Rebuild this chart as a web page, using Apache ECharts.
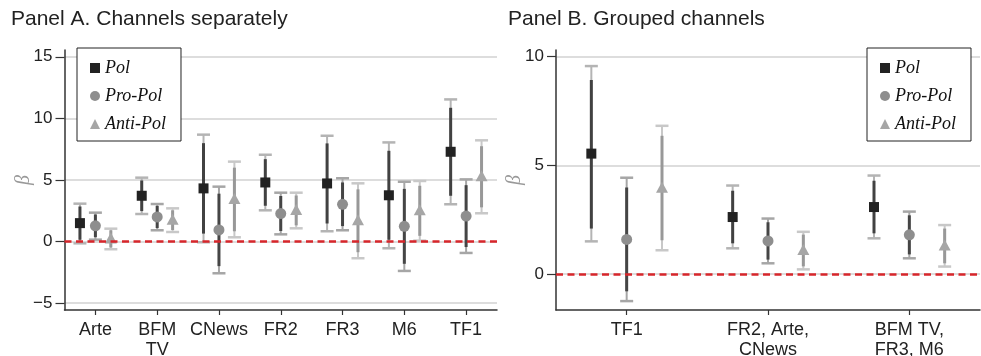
<!DOCTYPE html>
<html><head><meta charset="utf-8">
<script src="https://cdn.jsdelivr.net/npm/echarts@6/dist/echarts.min.js"></script>
<style>html,body{margin:0;padding:0;background:#fff}#c{width:981px;height:356px}</style>
</head><body><div id="c"></div>
<script>
// ---------- Panel A data ----------
const catsA = ['Arte', 'BFM\nTV', 'CNews', 'FR2', 'FR3', 'M6', 'TF1'];
const polA_est  = [1.50, 3.72, 4.32, 4.80, 4.72, 3.76, 7.29];
const polA_lo95 = [-0.14, 2.24, -0.05, 2.54, 0.84, -0.54, 3.03];
const polA_hi95 = [3.08, 5.19, 8.68, 7.05, 8.59, 8.05, 11.54];
const polA_lo90 = [0.15, 2.48, 0.65, 2.91, 1.47, 0.15, 3.72];
const polA_hi90 = [2.85, 4.96, 7.99, 6.69, 7.97, 7.37, 10.86];

const proA_est  = [1.28, 2.00, 0.95, 2.28, 3.03, 1.24, 2.07];
const proA_lo95 = [0.16, 0.92, -2.57, 0.59, 0.92, -2.38, -0.92];
const proA_hi95 = [2.35, 3.05, 4.46, 3.97, 5.14, 4.86, 5.05];
const proA_lo90 = [0.36, 1.10, -1.99, 0.86, 1.26, -1.80, -0.44];
const proA_hi90 = [2.20, 2.90, 3.89, 3.70, 4.80, 4.28, 4.58];

const antiA_est  = [0.22, 1.74, 3.42, 2.53, 1.69, 2.50, 5.26];
const antiA_lo95 = [-0.62, 0.78, 0.35, 1.08, -1.35, 0.08, 2.30];
const antiA_hi95 = [1.05, 2.70, 6.49, 3.97, 4.73, 4.92, 8.22];
const antiA_lo90 = [-0.48, 0.94, 0.84, 1.32, -0.86, 0.47, 2.78];
const antiA_hi90 = [0.92, 2.54, 6.00, 3.74, 4.24, 4.53, 7.74];

// ---------- Panel B data ----------
const catsB = ['TF1', 'FR2, Arte,\nCNews', 'BFM TV,\nFR3, M6'];
const polB_est  = [5.54, 2.62, 3.08];
const polB_lo95 = [1.50, 1.18, 1.64];
const polB_hi95 = [9.57, 4.07, 4.53];
const polB_lo90 = [2.09, 1.41, 1.87];
const polB_hi90 = [8.93, 3.83, 4.29];

const proB_est  = [1.59, 1.52, 1.80];
const proB_lo95 = [-1.25, 0.49, 0.72];
const proB_hi95 = [4.43, 2.55, 2.87];
const proB_lo90 = [-0.80, 0.66, 0.90];
const proB_hi90 = [3.98, 2.38, 2.70];

const antiB_est  = [3.95, 1.08, 1.29];
const antiB_lo95 = [1.09, 0.21, 0.34];
const antiB_hi95 = [6.82, 1.94, 2.25];
const antiB_lo90 = [1.55, 0.35, 0.49];
const antiB_hi90 = [6.36, 1.81, 2.09];

// tick labels
const ticksA = [-5, 0, 5, 10, 15];
const ticksB = [0, 5, 10];

const seriesNames = ['Pol', 'Pro-Pol', 'Anti-Pol'];

function rows(est, lo95, hi95, lo90, hi90) {
  return est.map((v, i) => [i, v, lo95[i], hi95[i], lo90[i], hi90[i]]);
}

const styles = {
  'Pol':      { marker: '#222222', inner: '#414141', outer: '#b4b4b4', shape: 'square', off: -0.25 },
  'Pro-Pol':  { marker: '#8e8e8e', inner: '#454545', outer: '#a6a6a6', shape: 'circle', off: 0 },
  'Anti-Pol': { marker: '#a6a6a6', inner: '#989898', outer: '#c8c8c8', shape: 'triangle', off: 0.25 }
};

function makeRender(st) {
  return function (params, api) {
    const ci = api.value(0);
    const band = api.size([1, 0])[0];
    const p = api.coord([ci, api.value(1)]);
    const x = p[0] + st.off * band;
    const y = p[1];
    const ylo95 = api.coord([ci, api.value(2)])[1];
    const yhi95 = api.coord([ci, api.value(3)])[1];
    const ylo90 = api.coord([ci, api.value(4)])[1];
    const yhi90 = api.coord([ci, api.value(5)])[1];
    const cap = 6.5;
    const children = [
      { type: 'line', shape: { x1: x, y1: ylo95, x2: x, y2: yhi95 }, style: { stroke: st.outer, lineWidth: 2 } },
      { type: 'line', shape: { x1: x - cap, y1: ylo95, x2: x + cap, y2: ylo95 }, style: { stroke: st.outer, lineWidth: 2.5 } },
      { type: 'line', shape: { x1: x - cap, y1: yhi95, x2: x + cap, y2: yhi95 }, style: { stroke: st.outer, lineWidth: 2.5 } },
      { type: 'line', shape: { x1: x, y1: ylo90, x2: x, y2: yhi90 }, style: { stroke: st.inner, lineWidth: 3 } }
    ];
    if (st.shape === 'square') {
      children.push({ type: 'rect', shape: { x: x - 5, y: y - 5, width: 10, height: 10 }, style: { fill: st.marker } });
    } else if (st.shape === 'circle') {
      children.push({ type: 'circle', shape: { cx: x, cy: y, r: 5.5 }, style: { fill: st.marker } });
    } else {
      children.push({ type: 'polygon', shape: { points: [[x, y - 6.5], [x - 6, y + 4.5], [x + 6, y + 4.5]] }, style: { fill: st.marker } });
    }
    return { type: 'group', children: children };
  };
}

const zeroLine = {
  silent: true, symbol: 'none', label: { show: false },
  lineStyle: { color: '#d7262b', type: [7, 4.5], width: 2.5 },
  data: [{ yAxis: 0 }]
};

function mkSeries(name, data, gi) {
  const st = styles[name];
  const s = {
    name: name, type: 'custom', xAxisIndex: gi, yAxisIndex: gi,
    renderItem: makeRender(st), data: data,
    encode: { x: 0, y: 1 },
    itemStyle: { color: st.marker },
    z: 3
  };
  if (name === 'Pol') { s.markLine = zeroLine; }
  return s;
}

const sansFont = 'Liberation Sans, Arial, sans-serif';
const serifFont = 'Liberation Serif, Times New Roman, serif';

function yAx(gi, min, max, ticks, gap) {
  return {
    type: 'value', gridIndex: gi, min: min, max: max,
    name: 'β', nameLocation: 'middle', nameGap: gap, nameMoveOverlap: false,
    nameTextStyle: { fontFamily: serifFont, fontStyle: 'italic', fontSize: 20, color: '#999' },
    axisLine: { show: true, onZero: false, lineStyle: { color: '#333', width: 1.5 } },
    axisTick: { show: true, length: 9, customValues: ticks, lineStyle: { color: '#333', width: 1.2 } },
    axisLabel: { customValues: ticks, fontFamily: sansFont, fontSize: 17, color: '#222', margin: 12,
      formatter: v => (v < 0 ? '\u2212' + Math.abs(v) : String(v)) },
    splitLine: { show: true, lineStyle: { color: '#d2d2d2', width: 1.5 } }
  };
}

function xAx(gi, cats) {
  return {
    type: 'category', gridIndex: gi, data: cats,
    axisLine: { show: true, onZero: false, lineStyle: { color: '#333', width: 1.5 } },
    axisTick: { show: true, alignWithLabel: true, length: 5, lineStyle: { color: '#333', width: 1.2 } },
    axisLabel: { fontFamily: sansFont, fontSize: 18, color: '#222', lineHeight: 20, margin: 10, interval: 0 },
    splitLine: { show: false }
  };
}

function legendAt(left) {
  return {
    left: left, top: 48, orient: 'vertical',
    data: [{ name: 'Pol', icon: 'rect' }, { name: 'Pro-Pol', icon: 'circle' }, { name: 'Anti-Pol', icon: 'triangle' }],
    itemWidth: 10, itemHeight: 10, itemGap: 8,
    padding: [10, 15, 7, 13],
    borderColor: '#222', borderWidth: 1, backgroundColor: '#fff',
    textStyle: { fontFamily: serifFont, fontStyle: 'italic', fontSize: 18, lineHeight: 20, color: '#111' },
    selectedMode: false, z: 10
  };
}

const option = {
  animation: false,
  backgroundColor: '#fff',
  title: [
    { text: 'Panel A. Channels separately', left: 11, top: 9, padding: 0,
      textStyle: { fontFamily: sansFont, fontSize: 21, fontWeight: 'normal', color: '#222' } },
    { text: 'Panel B. Grouped channels', left: 508, top: 9, padding: 0,
      textStyle: { fontFamily: sansFont, fontSize: 21, fontWeight: 'normal', color: '#222' } }
  ],
  legend: [legendAt(77), legendAt(867)],
  grid: [
    { left: 64.5, right: 484, top: 50, bottom: 46, containLabel: false, outerBoundsMode: 'none' },
    { left: 556, right: 1, top: 50, bottom: 46, containLabel: false, outerBoundsMode: 'none' }
  ],
  xAxis: [xAx(0, catsA), xAx(1, catsB)],
  yAxis: [yAx(0, -5.55, 15.55, ticksA, 31), yAx(1, -1.66, 10.31, ticksB, 31)],
  series: [
    mkSeries('Pol', rows(polA_est, polA_lo95, polA_hi95, polA_lo90, polA_hi90), 0),
    mkSeries('Pro-Pol', rows(proA_est, proA_lo95, proA_hi95, proA_lo90, proA_hi90), 0),
    mkSeries('Anti-Pol', rows(antiA_est, antiA_lo95, antiA_hi95, antiA_lo90, antiA_hi90), 0),
    mkSeries('Pol', rows(polB_est, polB_lo95, polB_hi95, polB_lo90, polB_hi90), 1),
    mkSeries('Pro-Pol', rows(proB_est, proB_lo95, proB_hi95, proB_lo90, proB_hi90), 1),
    mkSeries('Anti-Pol', rows(antiB_est, antiB_lo95, antiB_hi95, antiB_lo90, antiB_hi90), 1)
  ]
};

const chart = echarts.init(document.getElementById('c'), null, { renderer: 'canvas' });
chart.setOption(option);
</script>
</body></html>
